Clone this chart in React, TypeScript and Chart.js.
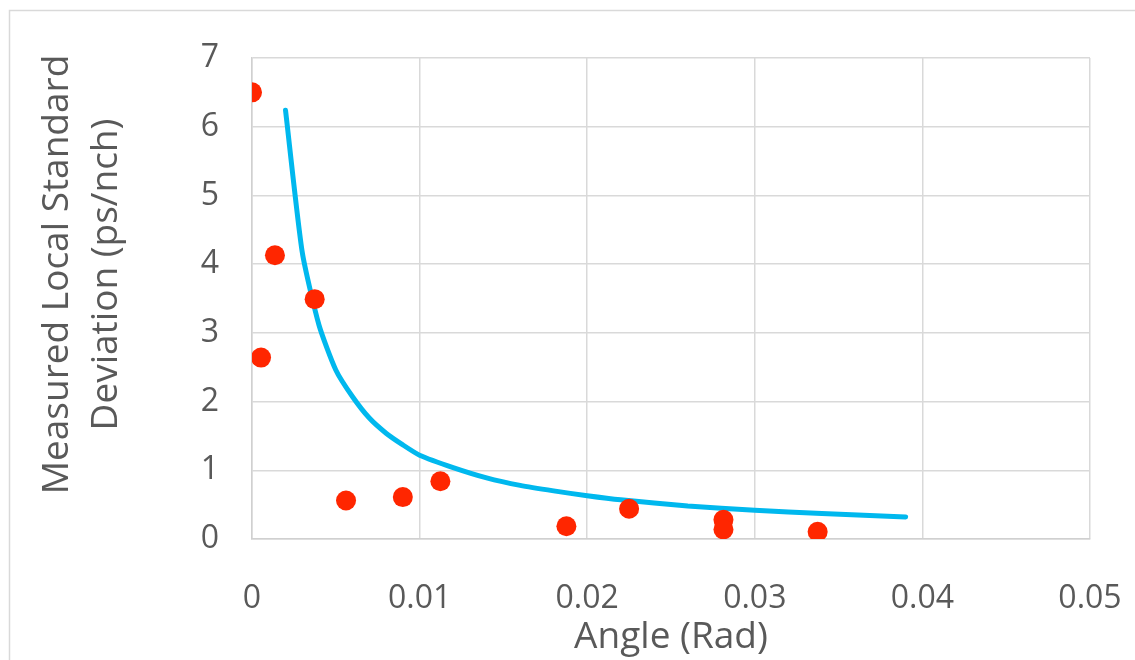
import React, { useEffect, useRef } from "react";
import { Chart, registerables } from "chart.js";

Chart.register(...registerables);

// Measured points (Angle in rad, std dev in ps/nch)
const measuredAngle = [0.0, 0.00054, 0.00137, 0.00374, 0.00561, 0.009, 0.01124, 0.01876, 0.0225, 0.02813, 0.02813, 0.03375];
const measuredStd = [6.5, 2.64, 4.13, 3.49, 0.56, 0.61, 0.84, 0.185, 0.44, 0.28, 0.14, 0.106];

// Trend line
const trendAngle = [0.002, 0.003, 0.004, 0.005, 0.006, 0.007, 0.008, 0.009, 0.01, 0.012, 0.014, 0.016, 0.018, 0.02, 0.022, 0.026, 0.03, 0.034, 0.039];
const trendStd = [6.24, 4.17, 3.11, 2.46, 2.07, 1.76, 1.54, 1.37, 1.22, 1.04, 0.89, 0.78, 0.7, 0.63, 0.57, 0.48, 0.42, 0.37, 0.32];

const xTicks = [0, 0.01, 0.02, 0.03, 0.04, 0.05];
const yTicks = [0, 1, 2, 3, 4, 5, 6, 7];

const xTitle = "Angle (Rad)";
const yTitle = ["     Measured Local Standard", "     Deviation (ps/nch)"];

const TEXT = "#595959";
const GRID = "#d9d9d9";
const FONT = "'Open Sans', 'DejaVu Sans', sans-serif";

const borderPlugin = {
  id: "outerBorder",
  beforeDraw(chart: any) {
    const ctx = chart.ctx;
    ctx.save();
    ctx.fillStyle = "#ffffff";
    ctx.fillRect(0, 0, chart.width, chart.height);
    ctx.strokeStyle = GRID;
    ctx.lineWidth = 1.5;
    ctx.strokeRect(9.5, 10.5, 1300, 800);
    ctx.restore();
  },
};

export default function App() {
  const ref = useRef<HTMLCanvasElement | null>(null);

  useEffect(() => {
    document.body.style.margin = "0";
    const canvas = ref.current;
    if (!canvas) return;
    const chart = new Chart(canvas, {
      type: "scatter",
      data: {
        datasets: [
          {
            label: "Measured",
            data: measuredAngle.map((x, i) => ({ x, y: measuredStd[i] })),
            backgroundColor: "#ff2600",
            borderColor: "#ff2600",
            pointRadius: 10,
            pointBorderWidth: 0,
            showLine: false,
            order: 0,
          },
          {
            label: "Trend",
            data: trendAngle.map((x, i) => ({ x, y: trendStd[i] })),
            borderColor: "#00b8ee",
            backgroundColor: "#00b8ee",
            borderWidth: 5,
            pointRadius: 0,
            showLine: true,
            tension: 0.2,
            borderCapStyle: "round",
            borderJoinStyle: "round",
            order: 1,
          } as any,
        ],
      },
      options: {
        responsive: false,
        animation: false,
        devicePixelRatio: 1,
        layout: { padding: { left: 0, top: 58, right: 45, bottom: 0 } },
        plugins: {
          legend: { display: false },
          tooltip: { enabled: false },
        },
        scales: {
          x: {
            type: "linear",
            min: 0,
            max: 0.05,
            afterBuildTicks(scale: any) {
              scale.ticks = xTicks.map((v) => ({ value: v }));
            },
            afterFit(scale: any) {
              scale.height = 121;
              scale.paddingLeft = 0;
              scale.paddingRight = 0;
            },
            ticks: {
              color: TEXT,
              font: { family: FONT, size: 32 },
              padding: 41,
              callback: (v: any) => String(Number(Number(v).toFixed(2))),
            },
            grid: { color: GRID, lineWidth: 1.5, drawTicks: false },
            border: { display: true, color: "#d0d0d0", width: 1.5 },
            title: {
              display: true,
              text: xTitle,
              color: TEXT,
              font: { family: FONT, size: 37, lineHeight: 1.2 },
              padding: { top: 0, bottom: 0 },
            },
          },
          y: {
            type: "linear",
            min: 0,
            max: 7,
            afterBuildTicks(scale: any) {
              scale.ticks = yTicks.map((v) => ({ value: v }));
            },
            afterFit(scale: any) {
              scale.width = 252;
              scale.paddingTop = 0;
              scale.paddingBottom = 0;
            },
            ticks: {
              color: TEXT,
              font: { family: FONT, size: 32 },
              padding: 33,
              callback: (v: any) => String(v),
            },
            grid: { color: GRID, lineWidth: 1.5, drawTicks: false },
            border: { display: true, color: "#d0d0d0", width: 1.5 },
            title: {
              display: true,
              text: yTitle,
              color: TEXT,
              font: { family: FONT, size: 37, lineHeight: 1.35 },
              padding: { top: 32, bottom: 0 },
            },
          },
        },
      },
      plugins: [borderPlugin],
    });
    return () => chart.destroy();
  }, []);

  return <canvas ref={ref} width={1135} height={660} style={{ display: "block" }} />;
}
